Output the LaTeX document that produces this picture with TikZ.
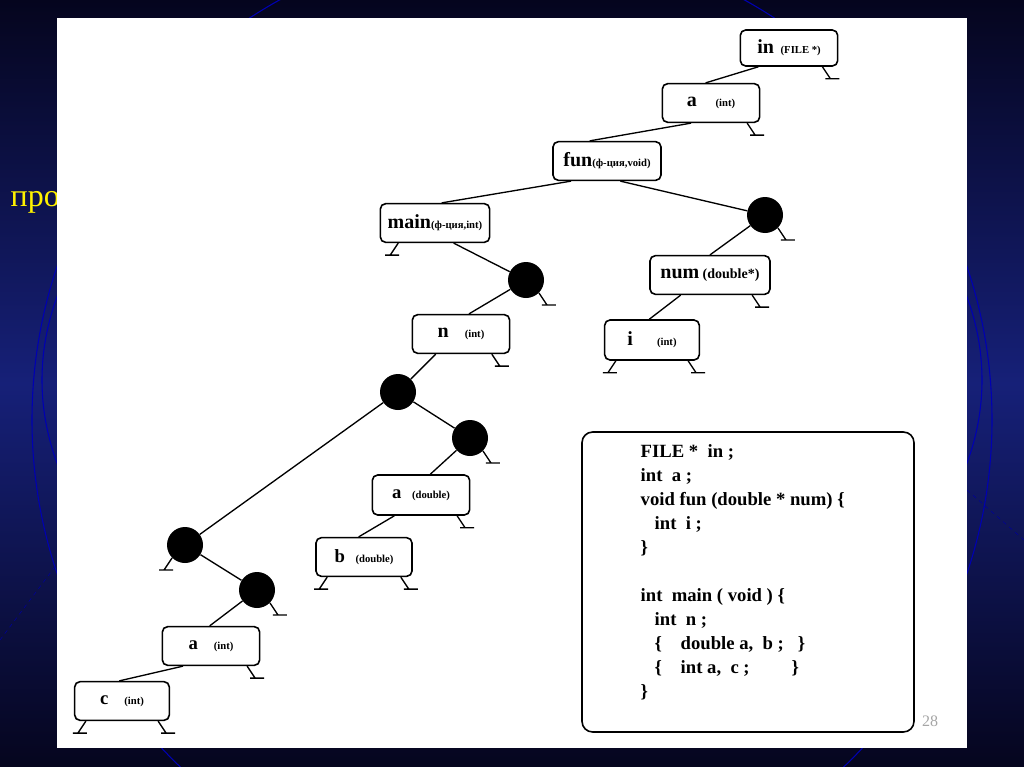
\documentclass[tikz,border=0pt]{standalone}
\usepackage{fontspec}
\setmainfont{Liberation Serif}
\begin{document}
\begin{tikzpicture}[x=0.75pt,y=-0.75pt,
 box/.style={draw,line width=1.2pt,rounded corners=4pt,fill=white,inner sep=0pt},
 dot/.style={circle,fill=black,minimum size=27pt,inner sep=0pt},
 ed/.style={line width=1pt},
]
\useasboundingbox (0,0) rectangle (1024,767);
\shade[top color={rgb,255:red,5;green,5;blue,30},bottom color={rgb,255:red,5;green,5;blue,30},middle color={rgb,255:red,22;green,32;blue,120}] (0,0) rectangle (1024,767);
\begin{scope}
\clip (0,0) rectangle (1024,767);
\draw[blue!70!black,line width=0.8pt] (512,420) circle (480);
\draw[blue!70!black,line width=0.8pt] (512,380) circle (470 and 330);
\draw[blue!60!black,dashed] (0,640) -- (60,560);
\draw[blue!60!black,dashed] (967,490) -- (1024,540);
\end{scope}
\node[yellow,anchor=west,font=\fontsize{24}{24}\selectfont] (pro) at (6,202) {про};
\fill[white] (57,18) rectangle (967,748);
\node[gray!70,font=\fontsize{12}{12}\selectfont] (pg) at (930,721) {28};
% nodes
\node[box,minimum width=73pt,minimum height=27pt] (in) at (789,48) {\textbf{\fontsize{15}{15}\selectfont in}\hspace{5pt}{\fontsize{8}{8}\selectfont\bfseries (FILE *)}};
\node[box,minimum width=73pt,minimum height=29pt] (a1) at (711,103) {\textbf{\fontsize{15}{15}\selectfont a}\hspace{14pt}{\fontsize{8}{8}\selectfont\bfseries (int)}};
\node[box,minimum width=81pt,minimum height=29pt] (fun) at (607,161) {\textbf{\fontsize{15}{15}\selectfont fun}{\fontsize{8}{8}\selectfont\bfseries (ф-ция,void)}};
\node[box,minimum width=82pt,minimum height=29pt] (main) at (435,223) {\textbf{\fontsize{15}{15}\selectfont main}{\fontsize{8}{8}\selectfont\bfseries (ф-ция,int)}};
\node[dot] (c1) at (765,215) {};
\node[box,minimum width=90pt,minimum height=29pt] (num) at (710,275) {\textbf{\fontsize{15}{15}\selectfont num} {\fontsize{10.5}{10.5}\selectfont\bfseries (double*)}};
\node[box,minimum width=71pt,minimum height=30pt] (i) at (652,340) {\textbf{\fontsize{15}{15}\selectfont i}\hspace{18pt}{\fontsize{8}{8}\selectfont\bfseries (int)}};
\node[dot] (c2) at (526,280) {};
\node[box,minimum width=73pt,minimum height=29pt] (n) at (461,334) {\textbf{\fontsize{15}{15}\selectfont n}\hspace{12pt}{\fontsize{8}{8}\selectfont\bfseries (int)}};
\node[dot] (c3) at (398,392) {};
\node[dot] (c4) at (470,438) {};
\node[box,minimum width=73pt,minimum height=30pt] (ad) at (421,495) {\textbf{\fontsize{14}{14}\selectfont a}\hspace{8pt}{\fontsize{8}{8}\selectfont\bfseries (double)}};
\node[box,minimum width=72pt,minimum height=29pt] (b) at (364,557) {\textbf{\fontsize{14}{14}\selectfont b}\hspace{8pt}{\fontsize{8}{8}\selectfont\bfseries (double)}};
\node[dot] (c5) at (185,545) {};
\node[dot] (c6) at (257,590) {};
\node[box,minimum width=73pt,minimum height=29pt] (ai) at (211,646) {\textbf{\fontsize{14}{14}\selectfont a}\hspace{12pt}{\fontsize{8}{8}\selectfont\bfseries (int)}};
\node[box,minimum width=71pt,minimum height=29pt] (c) at (122,701) {\textbf{\fontsize{14}{14}\selectfont c}\hspace{12pt}{\fontsize{8}{8}\selectfont\bfseries (int)}};
% edges
\draw[ed] ([xshift=-23pt]in.south) -- ([xshift=-4pt]a1.north);
\draw[ed] ([xshift=-15pt]a1.south) -- ([xshift=-13pt]fun.north);
\draw[ed] ([xshift=-27pt]fun.south) -- ([xshift=5pt]main.north);
\draw[ed] ([xshift=10pt]fun.south) -- (c1);
\draw[ed] (c1) -- ([xshift=0pt]num.north);
\draw[ed] ([xshift=-22pt]num.south) -- ([xshift=-2pt]i.north);
\draw[ed] ([xshift=14pt]main.south) -- (c2);
\draw[ed] (c2) -- ([xshift=6pt]n.north);
\draw[ed] ([xshift=-19pt]n.south) -- (c3);
\draw[ed] (c3) -- (c4);
\draw[ed] (c4) -- ([xshift=7pt]ad.north);
\draw[ed] ([xshift=-20pt]ad.south) -- ([xshift=-4pt]b.north);
\draw[ed] (c3) -- (c5);
\draw[ed] (c5) -- (c6);
\draw[ed] (c6) -- ([xshift=-1pt]ai.north);
\draw[ed] ([xshift=-21pt]ai.south) -- ([xshift=-2pt]c.north);
% stubs
\tikzset{sr/.style={insert path={-- ++(8,12) ++(-5,0) -- ++(14,0)}},
         sl/.style={insert path={-- ++(-8,12) ++(-5,0) -- ++(14,0)}}}
\draw[ed] ([xshift=-12pt]in.south east) [sr];
\draw[ed] ([xshift=-10pt]a1.south east) [sr];
\draw[ed] ([xshift=14pt]main.south west) [sl];
\draw[ed] (c1.south east) [sr];
\draw[ed] ([xshift=-14pt]num.south east) [sr];
\draw[ed] ([xshift=9pt]i.south west) [sl];
\draw[ed] ([xshift=-9pt]i.south east) [sr];
\draw[ed] (c2.south east) [sr];
\draw[ed] ([xshift=-14pt]n.south east) [sr];
\draw[ed] (c4.south east) [sr];
\draw[ed] ([xshift=-10pt]ad.south east) [sr];
\draw[ed] ([xshift=9pt]b.south west) [sl];
\draw[ed] ([xshift=-9pt]b.south east) [sr];
\draw[ed] (c5.south west) [sl];
\draw[ed] (c6.south east) [sr];
\draw[ed] ([xshift=-10pt]ai.south east) [sr];
\draw[ed] ([xshift=9pt]c.south west) [sl];
\draw[ed] ([xshift=-9pt]c.south east) [sr];
% code
\node[box,rounded corners=8pt,minimum width=249pt,minimum height=225pt] (code) at (748,582) {};
\node[anchor=north west,align=left,font=\bfseries\fontsize{14}{18}\selectfont] (txt) at (636,440) {%
FILE *\ \ in ;\\
int\ \ a ;\\
void fun (double * num) \{\\
\ \ \ int\ \ i ;\\
\}\\[18pt]
int\ \ main ( void ) \{\\
\ \ \ int\ \ n ;\\
\ \ \ \{\ \ \ \ double a,\ \ b ;\ \ \ \}\\
\ \ \ \{\ \ \ \ int a,\ \ c ;\ \ \ \ \ \ \ \ \ \}\\
\}};
\end{tikzpicture}
\end{document}
